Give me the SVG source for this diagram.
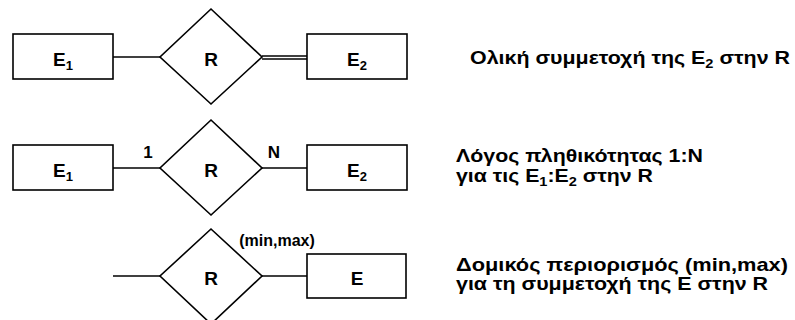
<svg xmlns="http://www.w3.org/2000/svg" width="795" height="320" viewBox="0 0 795 320">
<style>
.box{fill:#fff;stroke:#000;stroke-width:1.6}
.ln{stroke:#000;stroke-width:1.6;fill:none}
text{font-family:"Liberation Sans",Arial,sans-serif;font-weight:bold;font-size:19px;fill:#000}
.c{text-anchor:middle}
.sub{font-size:13px}
.note{font-size:19px}
.card{font-size:17px}
</style>
<rect width="795" height="320" fill="#fff"/>
<g id="connectors">
<line class="ln" x1="113" y1="57" x2="160" y2="57"/>
<line class="ln" x1="262" y1="56" x2="307" y2="56" stroke-width="1"/>
<line class="ln" x1="262" y1="59" x2="307" y2="59" stroke-width="1"/>
<line class="ln" x1="113" y1="168" x2="160" y2="168"/>
<line class="ln" x1="262" y1="168" x2="307" y2="168"/>
<line class="ln" x1="113" y1="276" x2="160" y2="276"/>
<line class="ln" x1="262" y1="276" x2="307" y2="276"/>
<text x="148" y="158" class="c card">1</text>
<text x="274" y="158" class="c card">N</text>
<text x="277" y="246" class="c" style="font-size:16px">(min,max)</text>
</g>
<g id="e1a"><rect class="box" x="13" y="34" width="100" height="45"/><text x="63" y="66" class="c">E<tspan class="sub" dy="4">1</tspan></text></g>
<g id="ra"><polygon class="box" points="211,9 262,57 211,104 160,57"/><text x="211" y="66" class="c">R</text></g>
<g id="e2a"><rect class="box" x="307" y="34" width="100" height="45"/><text x="357" y="66" class="c">E<tspan class="sub" dy="4">2</tspan></text></g>
<g id="e1b"><rect class="box" x="13" y="145" width="100" height="45"/><text x="63" y="177" class="c">E<tspan class="sub" dy="4">1</tspan></text></g>
<g id="rb"><polygon class="box" points="211,120 262,168 211,215 160,168"/><text x="211" y="177" class="c">R</text></g>
<g id="e2b"><rect class="box" x="307" y="145" width="100" height="45"/><text x="357" y="177" class="c">E<tspan class="sub" dy="4">2</tspan></text></g>
<g id="rc"><polygon class="box" points="211,229 262,276 211,324 160,276"/><text x="211" y="285" class="c">R</text></g>
<g id="ec"><rect class="box" x="307" y="254" width="99" height="44"/><text x="357" y="285" class="c">E</text></g>
<g id="notes">
<text class="note" x="470" y="64" textLength="320" lengthAdjust="spacingAndGlyphs">Ολική συμμετοχή της E<tspan class="sub" dy="4">2</tspan><tspan dy="-4"> στην R</tspan></text>
<text class="note" x="456" y="162" textLength="247" lengthAdjust="spacingAndGlyphs">Λόγος πληθικότητας 1:N</text>
<text class="note" x="456" y="182" textLength="197" lengthAdjust="spacingAndGlyphs">για τις E<tspan class="sub" dy="4">1</tspan><tspan dy="-4">:E</tspan><tspan class="sub" dy="4">2</tspan><tspan dy="-4"> στην R</tspan></text>
<text class="note" x="456" y="271" textLength="332" lengthAdjust="spacingAndGlyphs">Δομικός περιορισμός (min,max)</text>
<text class="note" x="456" y="290" textLength="312" lengthAdjust="spacingAndGlyphs">για τη συμμετοχή της E στην R</text>
</g>
</svg>
